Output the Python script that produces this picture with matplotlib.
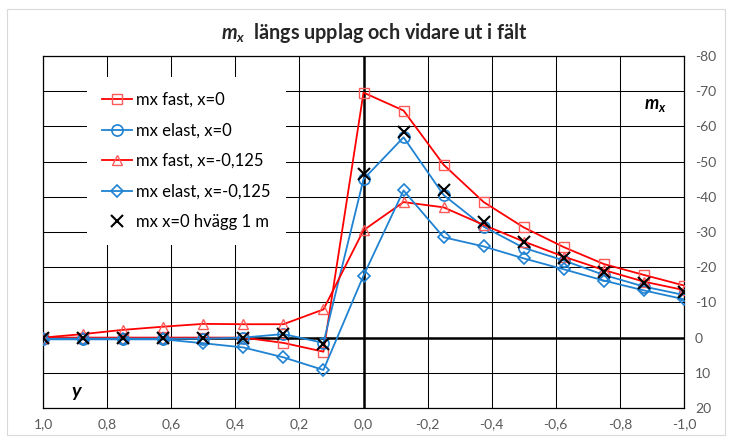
import matplotlib
matplotlib.use("Agg")
import matplotlib.pyplot as plt
from matplotlib.ticker import FixedLocator, FuncFormatter
from matplotlib.patches import FancyBboxPatch

plt.rcParams['font.family'] = ['Lato', 'DejaVu Sans']
plt.rcParams['mathtext.fontset'] = 'custom'
plt.rcParams['mathtext.it'] = 'Lato:italic:bold'
plt.rcParams['mathtext.rm'] = 'Lato:bold'

# ---- data ----
y_pos = [1.0, 0.875, 0.75, 0.625, 0.5, 0.375, 0.25, 0.125, 0.0,
         -0.125, -0.25, -0.375, -0.5, -0.625, -0.75, -0.875, -1.0]
mx_fast_x0 = [0, 0, 0, 0, 0, 0, 1.5, 4, -69.6,
              -64.5, -49.1, -38.5, -31.3, -25.7, -20.9, -17.8, -14.8]
mx_elast_x0 = [0.3, 0.3, 0.3, 0.3, 0.3, 0, -1, 1.5, -45,
               -56.9, -40.5, -31.5, -25.5, -21.9, -17.8, -14.5, -12.1]
mx_fast_x125 = [0, -1, -2.2, -3.1, -3.9, -3.8, -3.8, -8, -30.5,
                -38.5, -37, -32, -27.3, -23, -19.2, -15.9, -13.5]
mx_elast_x125 = [0.5, 0.5, 0.5, 0.5, 1.6, 2.8, 5.6, 9.2, -17.6,
                 -41.8, -28.5, -25.9, -22.5, -19.4, -16.2, -13.4, -10.9]
mx_hvagg = [0, 0, 0, 0, 0, 0, -1, 1.9, -46.4,
            -58.5, -41.8, -32.8, -27.3, -22.5, -18.6, -15.5, -12.9]

labels = ["mx fast, x=0", "mx elast, x=0", "mx fast, x=-0,125",
          "mx elast, x=-0,125", "mx x=0 hvägg 1 m"]
x_ticks = [1.0, 0.8, 0.6, 0.4, 0.2, 0.0, -0.2, -0.4, -0.6, -0.8, -1.0]
y_ticks = [-80, -70, -60, -50, -40, -30, -20, -10, 0, 10, 20]
title = "$m_x$  längs upplag och vidare ut i fält"

RED = '#FF0000'
RED_M = '#FF5A5A'
BLUE = '#1F82D2'

fig = plt.figure(figsize=(7.30, 4.37), dpi=100)
fig.patch.set_facecolor('white')
border = FancyBboxPatch((7/730, 2/437), 718/730, 426/437,
                        boxstyle="square,pad=0", transform=fig.transFigure,
                        facecolor='none', edgecolor='#D9D9D9', lw=0.8)
fig.patches.append(border)

ax = fig.add_axes([43/730, 1-408/437, 641/730, 352/437])
ax.set_xlim(1.0, -1.0)
ax.set_ylim(20, -80)

ax.xaxis.set_major_locator(FixedLocator(x_ticks))
ax.yaxis.set_major_locator(FixedLocator(y_ticks))
ax.xaxis.set_major_formatter(FuncFormatter(lambda v, p: f"{v:.1f}".replace('.', ',').replace('-0,0', '0,0')))
ax.yaxis.set_major_formatter(FuncFormatter(lambda v, p: f"{int(round(v))}"))
ax.yaxis.tick_right()
ax.tick_params(axis='both', length=0, labelsize=10, labelcolor='#595959')
ax.tick_params(axis='x', pad=7)
ax.tick_params(axis='y', pad=8)
ax.grid(True, color='#000000', lw=0.75)
ax.set_axisbelow(True)
for s in ax.spines.values():
    s.set_color('#000000')
    s.set_linewidth(0.9)
ax.axhline(0, color='black', lw=1.8, zorder=1.5)
ax.axvline(0, color='black', lw=1.8, zorder=1.5)

ms = 7.5
ax.plot(y_pos, mx_fast_x0, color=RED, lw=1.3, marker='s', ms=ms,
        mfc='none', mec=RED_M, mew=1.0, label=labels[0], zorder=3)
ax.plot(y_pos, mx_elast_x0, color=BLUE, lw=1.3, marker='o', ms=ms+0.5,
        mfc='none', mec=BLUE, mew=1.2, label=labels[1], zorder=3)
ax.plot(y_pos, mx_fast_x125, color=RED, lw=1.3, marker='^', ms=ms,
        mfc='none', mec=RED_M, mew=1.0, label=labels[2], zorder=3)
ax.plot(y_pos, mx_elast_x125, color=BLUE, lw=1.3, marker='D', ms=ms-1.2,
        mfc='none', mec=BLUE, mew=1.2, label=labels[3], zorder=3)
ax.plot(y_pos, mx_hvagg, color='black', lw=0, marker='x', ms=ms+1.5,
        mew=1.5, label=labels[4], zorder=4)

leg = ax.legend(loc='upper left', bbox_to_anchor=(0.0686, 0.94),
                fontsize=12, frameon=True, fancybox=False,
                facecolor='white', edgecolor='none', framealpha=1,
                handlelength=1.8, handletextpad=0.25, labelspacing=0.87,
                borderpad=0.9, borderaxespad=0)
leg.set_zorder(5)

ax.text(0.955, 0.86, "$m_x$", transform=ax.transAxes, fontsize=13,
        ha='center', va='center', zorder=6)
ax.text(0.053, 0.04, "$y$", transform=ax.transAxes, fontsize=14,
        ha='center', va='center', zorder=6)

fig.text(374/730, 1-33/437, title, ha='center', va='center',
         fontsize=14.2, fontweight='bold', color='#262626')

fig.savefig("out.png", dpi=100, facecolor='white')
